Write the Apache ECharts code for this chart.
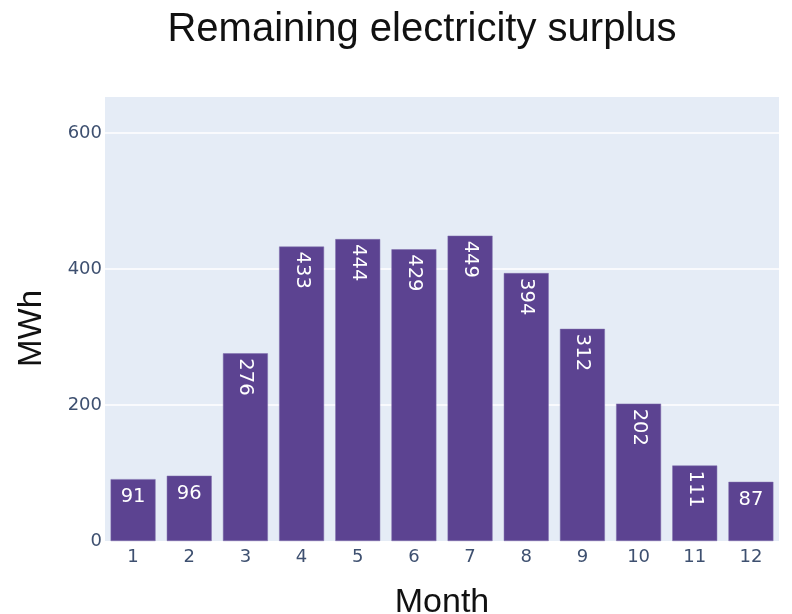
<!DOCTYPE html>
<html>
<head>
<meta charset="utf-8">
<script src="https://cdn.jsdelivr.net/npm/echarts@6/dist/echarts.min.js"></script>
<style>
  html, body { margin: 0; padding: 0; background: #fff; overflow: hidden; }
  #chart { width: 792px; height: 614px; }
</style>
</head>
<body>
<div id="chart"></div>
<script>
const months = ['1', '2', '3', '4', '5', '6', '7', '8', '9', '10', '11', '12'];
const surplus = [91, 96, 276, 433, 444, 429, 449, 394, 312, 202, 111, 87];
const yTicks = [0, 200, 400, 600];

const barColor = '#5c4391';
const tickColor = '#3e5070';
const tickFont = 'DejaVu Sans';

// Short bars keep a horizontal label; taller ones get it rotated down the bar.
const barData = surplus.map(v => {
  const upright = v < 100;
  return {
    value: v,
    label: upright
      ? { rotate: 0, align: 'center', verticalAlign: 'top', distance: 8 }
      : { rotate: -90, align: 'left', verticalAlign: 'middle', distance: 5 }
  };
});

const chart = echarts.init(document.getElementById('chart'), null, { renderer: 'canvas' });
chart.setOption({
  animation: false,
  backgroundColor: '#ffffff',
  title: {
    text: 'Remaining electricity surplus',
    left: 417,
    textAlign: 'center',
    top: 5,
    textStyle: { fontFamily: 'Liberation Sans', fontSize: 40, fontWeight: 'normal', color: '#111' }
  },
  graphic: [{
    type: 'text',
    left: 15,
    top: 290,
    rotation: Math.PI / 2,
    style: { text: 'MWh', font: '33px "Liberation Sans"', fill: '#111' }
  }],
  grid: {
    left: 105, right: 13, top: 97, bottom: 73,
    outerBoundsMode: 'none',
    containLabel: false,
    show: true, backgroundColor: '#E5ECF6', borderWidth: 0
  },
  xAxis: {
    type: 'category',
    data: months,
    name: 'Month',
    nameLocation: 'middle',
    nameGap: 45,
    nameTextStyle: { fontFamily: 'Liberation Sans', fontSize: 34, color: '#111' },
    axisLine: { show: false },
    axisTick: { show: false },
    axisLabel: { fontFamily: tickFont, fontSize: 18, color: tickColor, margin: 7 },
    splitLine: { show: false }
  },
  yAxis: {
    type: 'value',
    min: 0,
    max: 653,
    interval: 200,
    axisLine: { show: false },
    axisTick: { show: false },
    axisLabel: {
      fontFamily: tickFont, fontSize: 18, color: tickColor, margin: 3,
      showMaxLabel: false,
      formatter: v => (yTicks.includes(v) ? String(v) : '')
    },
    splitLine: { show: true, showMaxLine: false, showMinLine: false, lineStyle: { color: '#ffffff', width: 1.5 } }
  },
  series: [{
    type: 'bar',
    data: barData,
    barCategoryGap: '20%',
    itemStyle: { color: barColor, borderColor: '#7f6ead', borderWidth: 0.5 },
    label: {
      show: true,
      position: 'insideTop',
      color: '#ffffff',
      fontFamily: tickFont,
      fontSize: 19.5
    }
  }]
});
</script>
</body>
</html>
